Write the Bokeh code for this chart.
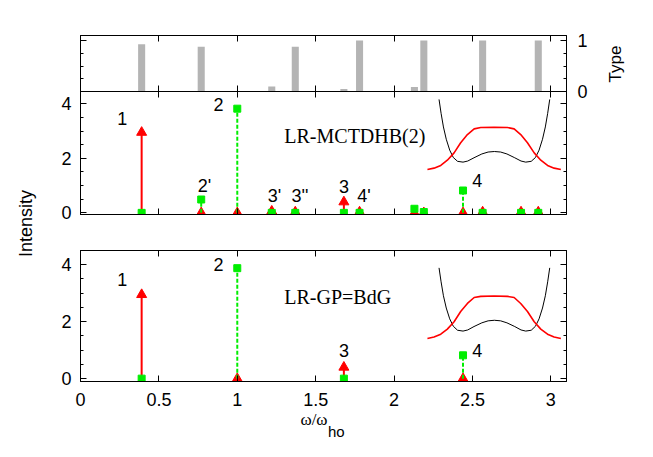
import math
from bokeh.plotting import figure
from bokeh.models import Range1d, LinearAxis, SingleIntervalTicker, CustomLabelingPolicy
from bokeh.layouts import column
from bokeh.embed import file_html
from bokeh.resources import INLINE
from bokeh.core.properties import value

# ---------------- data ----------------
omega = [0.39, 0.77, 1.00, 1.22, 1.37, 1.68, 1.78, 2.13, 2.19, 2.44, 2.565, 2.81, 2.92]
type_frac = [0.93, 0.88, 0.0, 0.10, 0.88, 0.05, 1.0, 0.09, 1.0, 0.0, 1.0, 0.0, 1.0]
mctdhb_red = [2.95, 0.0, 0.0, 0.06, 0.03, 0.40, 0.03, 0.0, 0.0, 0.0, 0.03, 0.03, 0.03]
mctdhb_green = [0.0, 0.49, 3.82, 0.0, 0.0, 0.0, 0.0, 0.15, 0.03, 0.82, 0.0, 0.0, 0.0]

gp_omega = [0.39, 1.00, 1.68, 2.44]
gp_red = [2.95, 0.0, 0.40, 0.0]
gp_green = [0.0, 3.88, 0.0, 0.82]

mctdhb_labels = ["1", "2'", "2", "3'", "3''", "3", "4'", "4"]
mctdhb_label_x = [0.266, 0.79, 0.88, 1.238, 1.40, 1.68, 1.808, 2.53]
mctdhb_label_y = [3.45, 0.98, 3.97, 0.63, 0.63, 0.98, 0.63, 1.20]

gp_labels = ["1", "2", "3", "4"]
gp_label_x = [0.266, 0.88, 1.68, 2.53]
gp_label_y = [3.49, 4.00, 1.00, 1.00]

# inset: trap potential (black) and density (red)
pot_x = [2.287, 2.300, 2.315, 2.333, 2.355, 2.378, 2.405, 2.44, 2.47, 2.51, 2.56, 2.60, 2.64,
         2.68, 2.72, 2.77, 2.81, 2.84, 2.875, 2.902, 2.925, 2.947, 2.965, 2.980, 2.993]
pot_mctdhb = [4.16, 3.65, 3.15, 2.70, 2.30, 2.03, 1.89, 1.86, 1.90, 2.02, 2.16, 2.23, 2.25,
              2.23, 2.16, 2.02, 1.90, 1.86, 1.89, 2.03, 2.30, 2.70, 3.15, 3.65, 4.16]
pot_gp = [3.89, 3.40, 2.91, 2.48, 2.10, 1.84, 1.70, 1.67, 1.71, 1.83, 1.96, 2.03, 2.05,
          2.03, 1.96, 1.83, 1.71, 1.67, 1.70, 1.84, 2.10, 2.48, 2.91, 3.40, 3.89]
dens_x = [2.213, 2.255, 2.298, 2.340, 2.383, 2.425, 2.468, 2.511, 2.553, 2.638,
          2.723, 2.766, 2.808, 2.851, 2.894, 2.936, 2.979, 3.021, 3.064]
dens_mctdhb = [1.59, 1.64, 1.74, 1.93, 2.20, 2.57, 2.87, 3.08, 3.13, 3.14,
               3.13, 3.08, 2.87, 2.57, 2.20, 1.93, 1.74, 1.64, 1.59]
dens_gp = [1.41, 1.46, 1.56, 1.74, 2.00, 2.36, 2.64, 2.85, 2.89, 2.90,
           2.89, 2.85, 2.64, 2.36, 2.00, 1.74, 1.56, 1.46, 1.41]

RED = "#ff0000"
GREEN = "#00ee00"
GREY = "#b4b4b4"
SANS = "Liberation Sans"
SERIF = "Liberation Serif"
FS = "18px"

FRAME_W = 486
LEFT = 80
RIGHT = 70
PAGE_W, PAGE_H = 640, 453


def make_fig(frame_h, yr, top, bottom, margin=None):
    kw = {}
    if margin is not None:
        kw["margin"] = margin
    p = figure(frame_width=FRAME_W, frame_height=frame_h,
               x_range=Range1d(0, 3.1), y_range=Range1d(*yr),
               output_backend="svg", toolbar_location=None,
               x_axis_location=None, y_axis_location=None,
               min_border_left=LEFT, min_border_right=RIGHT,
               min_border_top=top, min_border_bottom=bottom, **kw)
    p.xgrid.visible = False
    p.ygrid.visible = False
    p.outline_line_color = "black"
    p.outline_line_width = 1
    p.background_fill_color = None
    p.border_fill_color = None
    return p


def no_labels():
    return CustomLabelingPolicy(code="return []")


def add_axis(p, side, ticker, labelled, standoff=9):
    ax = LinearAxis(ticker=ticker,
                    major_tick_in=6, major_tick_out=0,
                    minor_tick_in=3, minor_tick_out=0,
                    axis_line_color="black", major_tick_line_color="black",
                    minor_tick_line_color="black")
    if labelled:
        ax.major_label_text_font = SANS
        ax.major_label_text_font_size = FS
        ax.major_label_text_color = "black"
        ax.major_label_standoff = standoff
    else:
        ax.major_label_text_font_size = "0px"
        ax.major_label_standoff = 0
        ax.major_label_policy = no_labels()
    p.add_layout(ax, side)
    return ax


def xt():
    return SingleIntervalTicker(interval=0.5, num_minor_ticks=0)


def yt():
    return SingleIntervalTicker(interval=2, num_minor_ticks=4)


# ---------------- top panel: Type ----------------
p1 = make_fig(56, (0, 1.1), 35, 10)
p1.vbar(x=omega, top=type_frac, bottom=0, width=0.045, fill_color=GREY, line_color=None)
add_axis(p1, "below", xt(), False)
add_axis(p1, "above", xt(), False)
add_axis(p1, "left", SingleIntervalTicker(interval=1, num_minor_ticks=4), False)
add_axis(p1, "right", SingleIntervalTicker(interval=1, num_minor_ticks=4), True, standoff=11)


def spectrum(p, xs, red, green, lx, ly, labels, title, tx, ty, pot_y, dens_y):
    zeros = [0.0] * len(xs)
    p.line(pot_x, pot_y, line_color="black", line_width=1)
    p.line(dens_x, dens_y, line_color=RED, line_width=1.6)
    p.segment(x0=xs, y0=zeros, x1=xs, y1=red, line_color=RED, line_width=2)
    p.scatter(x=xs, y=red, marker="triangle", size=10, fill_color=RED, line_color=RED)
    p.segment(x0=xs, y0=zeros, x1=xs, y1=green, line_color=GREEN, line_width=2, line_dash="4 2")
    p.scatter(x=xs, y=green, marker="square", size=7, fill_color=GREEN, line_color=GREEN)
    p.text(x=lx, y=ly, text=labels, text_font=value(SANS), text_font_size=value(FS),
           text_align="center", text_baseline="middle", text_color="black")
    p.text(x=[tx], y=[ty], text=[title], text_font=value(SERIF), text_font_size=value("20px"),
           text_align="left", text_baseline="middle", text_color="black")


# ---------------- middle panel: LR-MCTDHB(2) ----------------
p2 = make_fig(123, (-0.06, 4.45), 0, 45, margin=(-10, 0, 0, 0))
spectrum(p2, omega, mctdhb_red, mctdhb_green, mctdhb_label_x, mctdhb_label_y, mctdhb_labels,
         "LR-MCTDHB(2)", 1.30, 2.81, pot_mctdhb, dens_mctdhb)
add_axis(p2, "below", xt(), False)
add_axis(p2, "above", xt(), False)
add_axis(p2, "left", yt(), True)
add_axis(p2, "right", yt(), False)

# ---------------- bottom panel: LR-GP=BdG ----------------
p3 = make_fig(131, (-0.1, 4.5), 0, 72, margin=(-9, 0, 0, 0))
spectrum(p3, gp_omega, gp_red, gp_green, gp_label_x, gp_label_y, gp_labels,
         "LR-GP=BdG", 1.30, 2.88, pot_gp, dens_gp)
add_axis(p3, "below", xt(), True, standoff=11)
add_axis(p3, "above", xt(), False)
add_axis(p3, "left", yt(), True)
add_axis(p3, "right", yt(), False)


# ---------------- transparent overlays carrying the axis titles (pixel units) ----------------
def overlay(shift):
    o = figure(frame_width=PAGE_W, frame_height=PAGE_H,
               x_range=Range1d(0, PAGE_W), y_range=Range1d(0, PAGE_H),
               output_backend="svg", toolbar_location=None,
               x_axis_location=None, y_axis_location=None,
               min_border=0, min_border_left=0, min_border_right=0,
               min_border_top=0, min_border_bottom=0,
               margin=(-PAGE_H, 0, 0, shift))
    o.xgrid.visible = False
    o.ygrid.visible = False
    o.outline_line_color = None
    o.background_fill_color = None
    o.border_fill_color = None
    return o


# left/bottom titles: frame starts at the page's left edge
ov = overlay(-LEFT)
ov.text(x=[25], y=[PAGE_H - 223], text=["Intensity"], angle=math.pi / 2,
        text_font=value(SANS), text_font_size=value(FS),
        text_align="center", text_baseline="middle", text_color="black")
ov.text(x=[313.5], y=[PAGE_H - 419], text=["ω/ω"],
        text_font=value(SERIF), text_font_size=value("17px"),
        text_align="center", text_baseline="middle", text_color="black")
ov.text(x=[327.5], y=[PAGE_H - 431], text=["ho"],
        text_font=value(SANS), text_font_size=value("15px"),
        text_align="left", text_baseline="middle", text_color="black")

# right title: frame starts at the plots' left frame edge (80 px)
ov2 = overlay(0)
ov2.text(x=[615 - LEFT], y=[PAGE_H - 63.5], text=["Type"], angle=math.pi / 2,
         text_font=value(SANS), text_font_size=value("17px"),
         text_align="center", text_baseline="middle", text_color="black")

layout = column(p1, p2, p3, ov, ov2, spacing=0)
open("out.html", "w").write(file_html(layout, INLINE))
